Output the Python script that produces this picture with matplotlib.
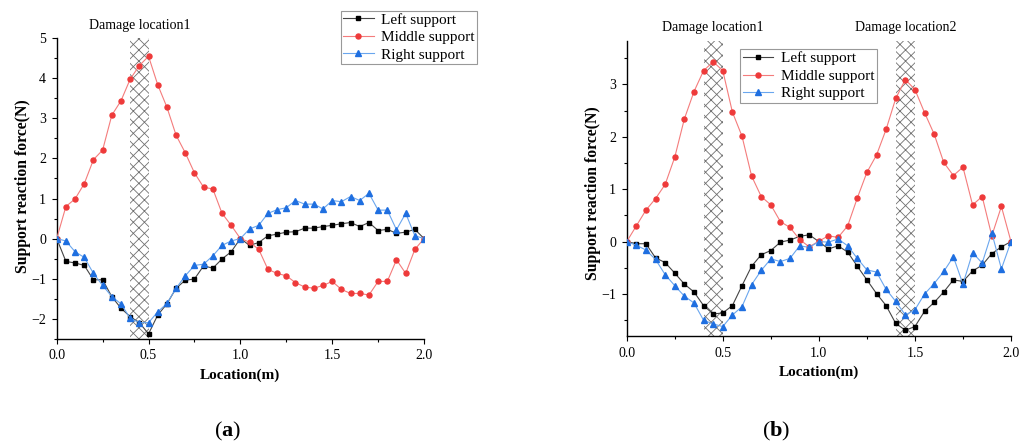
import numpy as np
import matplotlib
matplotlib.use("Agg")
import matplotlib.pyplot as plt
from matplotlib.ticker import MultipleLocator

plt.rcParams['font.family'] = ['Liberation Serif', 'DejaVu Serif']
plt.rcParams['mathtext.fontset'] = 'custom'
plt.rcParams['mathtext.rm'] = 'Liberation Serif'
plt.rcParams['mathtext.bf'] = 'Liberation Serif:bold'
plt.rcParams['hatch.linewidth'] = 0.6

# measurement points along the beam (m)
location = np.round(np.arange(0, 2.0001, 0.05), 2)

# (a) one damage zone
left_a = [0, -0.57, -0.61, -0.67, -1.03, -1.03, -1.45, -1.74, -1.95, -2.10, -2.38,
          -1.91, -1.63, -1.24, -1.04, -1.01, -0.68, -0.74, -0.51, -0.33, 0,
          -0.17, -0.10, 0.07, 0.11, 0.16, 0.17, 0.26, 0.26, 0.30, 0.33,
          0.37, 0.40, 0.30, 0.40, 0.20, 0.23, 0.13, 0.16, 0.23, 0]
middle_a = [0, 0.80, 0.99, 1.37, 1.97, 2.21, 3.08, 3.44, 3.98, 4.32, 4.55,
            3.84, 3.28, 2.58, 2.14, 1.64, 1.28, 1.24, 0.63, 0.33, 0.0,
            -0.09, -0.27, -0.77, -0.87, -0.93, -1.10, -1.21, -1.24, -1.17, -1.07,
            -1.27, -1.37, -1.37, -1.41, -1.07, -1.07, -0.53, -0.87, -0.27, 0]
right_a = [0, -0.06, -0.33, -0.47, -0.87, -1.17, -1.45, -1.63, -1.99, -2.10, -2.10,
           -1.83, -1.62, -1.24, -0.93, -0.67, -0.64, -0.43, -0.17, -0.06, 0,
           0.24, 0.33, 0.63, 0.72, 0.77, 0.95, 0.86, 0.86, 0.74, 0.95,
           0.92, 1.05, 0.95, 1.13, 0.71, 0.71, 0.22, 0.63, 0.07, 0]

# (b) two damage zones
left_b = [0, -0.04, -0.04, -0.31, -0.40, -0.60, -0.81, -0.96, -1.22, -1.38, -1.36,
          -1.22, -0.84, -0.47, -0.25, -0.17, -0.01, 0.03, 0.10, 0.13, 0,
          -0.14, -0.08, -0.20, -0.47, -0.73, -0.99, -1.22, -1.56, -1.69, -1.62,
          -1.33, -1.16, -0.96, -0.73, -0.76, -0.56, -0.45, -0.23, -0.10, 0]
middle_b = [0, 0.30, 0.60, 0.82, 1.09, 1.61, 2.34, 2.86, 3.26, 3.43, 3.26,
            2.47, 2.01, 1.25, 0.86, 0.70, 0.38, 0.27, 0.04, -0.10, 0.01,
            0.11, 0.08, 0.30, 0.83, 1.32, 1.65, 2.14, 2.73, 3.09, 2.90,
            2.46, 2.05, 1.51, 1.26, 1.42, 0.70, 0.86, 0.11, 0.67, 0]
right_b = [0, -0.07, -0.16, -0.34, -0.63, -0.84, -1.04, -1.17, -1.50, -1.57, -1.62,
           -1.40, -1.24, -0.82, -0.55, -0.33, -0.38, -0.32, -0.08, -0.11, 0,
           -0.01, 0.05, -0.08, -0.32, -0.54, -0.58, -0.91, -1.14, -1.40, -1.30,
           -1.00, -0.80, -0.57, -0.29, -0.81, -0.21, -0.41, 0.17, -0.52, 0]

labels = ['Left support', 'Middle support', 'Right support']
damage_a = [(0.4, 0.5, 'Damage location1')]
damage_b = [(0.4, 0.5, 'Damage location1'), (1.4, 1.5, 'Damage location2')]

styles = [
    dict(color='#444444', marker='s', ms=3.2, mfc='black', mec='black'),
    dict(color='#f47c7c', marker='o', ms=3.6, mfc='#ee3a3a', mec='#ee3a3a'),
    dict(color='#6aa6ee', marker='^', ms=4.2, mfc='#1f6fe0', mec='#1f6fe0'),
]

fig = plt.figure(figsize=(10.33, 4.48), dpi=100)
ax1 = fig.add_axes([0.0549, 0.244, 0.3556, 0.6705])
ax2 = fig.add_axes([0.6067, 0.250, 0.3720, 0.6590])


def draw_panel(ax, series, damage, ylim, leg_xy, lab_xy, name_y):
    for lo, hi, name in damage:
        ax.axvspan(lo, hi, facecolor='none', edgecolor='#707070', lw=0,
                   hatch='xxx', zorder=1)
        ax.text((lo + hi) / 2, name_y, name, transform=ax.get_xaxis_transform(),
                ha='center', va='center', fontsize=10)
    handles = []
    for s, lab, st in zip(series, labels, styles):
        h, = ax.plot(location, s, lw=0.8, label=lab, zorder=3, **st)
        handles.append(h)
    ax.set_xlim(0, 2)
    ax.set_ylim(*ylim)
    ax.xaxis.set_major_locator(MultipleLocator(0.5))
    ax.xaxis.set_minor_locator(MultipleLocator(0.25))
    ax.yaxis.set_major_locator(MultipleLocator(1))
    ax.yaxis.set_minor_locator(MultipleLocator(0.5))
    ax.xaxis.set_major_formatter(plt.FormatStrFormatter('%.1f'))
    ax.tick_params(which='major', direction='out', length=3.6, width=0.8,
                   pad=4, labelsize=10)
    ax.tick_params(which='minor', direction='out', length=2.3, width=0.8)
    for sp in ['top', 'right']:
        ax.spines[sp].set_visible(False)
    for sp in ['left', 'bottom']:
        ax.spines[sp].set_linewidth(1.0)
    ax.set_xlabel('Location(m)', fontsize=11, fontweight='bold')
    ax.set_ylabel('Support reaction force(N)', fontsize=11.3, fontweight='bold')
    ax.xaxis.set_label_coords(0.5, -0.10)
    ax.yaxis.set_label_coords(*lab_xy)
    leg = ax.legend(handles=handles, loc='upper left', bbox_to_anchor=leg_xy,
                    bbox_transform=fig.transFigure, borderaxespad=0,
                    fontsize=11, frameon=True, fancybox=False, framealpha=1,
                    edgecolor='#999999', borderpad=0.15, handlelength=2.0,
                    handletextpad=0.5, labelspacing=0.25)
    leg.get_frame().set_linewidth(0.8)


draw_panel(ax1, [left_a, middle_a, right_a], damage_a, (-2.5, 5),
           (340.7 / 1033, 1 - 10.7 / 448), (-0.070, 0.507), 1.044)
draw_panel(ax2, [left_b, middle_b, right_b], damage_b, (-1.8, 3.83),
           (740.3 / 1033, 1 - 49.3 / 448), (-0.068, 0.484), 1.046)

fig.text(228 / 1033, 1 - 431 / 448, r'($\mathbf{a}$)', ha='center', va='center',
         fontsize=16)
fig.text(776 / 1033, 1 - 431 / 448, r'($\mathbf{b}$)', ha='center', va='center',
         fontsize=16)

fig.savefig('out.png', dpi=100)
